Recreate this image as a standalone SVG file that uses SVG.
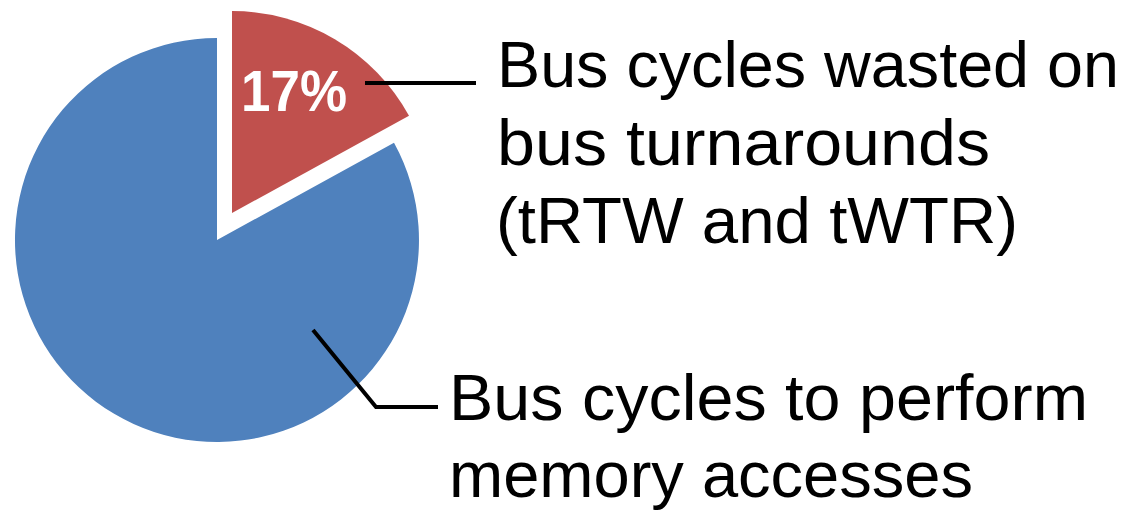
<svg xmlns="http://www.w3.org/2000/svg" width="1128" height="512" viewBox="0 0 1128 512">
  <style>
    .lbl { font-family: "Liberation Sans", Arial, sans-serif; font-size: 64px; fill: #000; }
    .pct { font-family: "Liberation Sans", Arial, sans-serif; font-size: 57px; font-weight: bold; fill: #fff; }
    .leader { fill: none; stroke: #000; stroke-width: 4; }
  </style>
  <rect width="1128" height="512" fill="#fff"/>
  <g id="slice-memory">
    <path d="M217,240 L394,142.7 A202,202 0 1,1 217,38 Z" fill="#4F81BD"/>
  </g>
  <g id="slice-turnaround">
    <path d="M232,213 L232,11 A202,202 0 0,1 409,115.7 Z" fill="#C0504D"/>
    <text class="pct" x="241" y="111" textLength="106" lengthAdjust="spacingAndGlyphs">17%</text>
  </g>
  <g id="connectors">
    <polyline class="leader" points="365,83 476,83"/>
    <polyline class="leader" points="313,330 376,407 438,407"/>
  </g>
  <g id="label-turnaround">
    <text class="lbl" x="497" y="87" textLength="622" lengthAdjust="spacingAndGlyphs">Bus cycles wasted on</text>
    <text class="lbl" x="497" y="165" textLength="493" lengthAdjust="spacingAndGlyphs">bus turnarounds</text>
    <text class="lbl" x="496" y="243" textLength="522" lengthAdjust="spacingAndGlyphs">(tRTW and tWTR)</text>
  </g>
  <g id="label-memory">
    <text class="lbl" x="449" y="420" textLength="639" lengthAdjust="spacingAndGlyphs">Bus cycles to perform</text>
    <text class="lbl" x="449" y="497" textLength="524" lengthAdjust="spacingAndGlyphs">memory accesses</text>
  </g>
</svg>
